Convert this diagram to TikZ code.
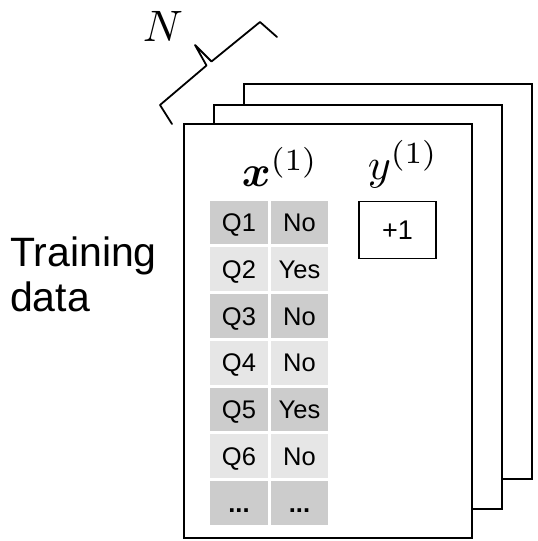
\documentclass[tikz,border=0pt]{standalone}
\usepackage{graphicx}
\usepackage{amsmath}
\usepackage{bm}
\usepackage{fontspec}
\setmainfont{Liberation Sans}
\definecolor{celldark}{HTML}{CCCCCC}
\definecolor{celllight}{HTML}{E6E6E6}
\newcommand{\celldots}{\textbf{...}}
% math set at 10pt and enlarged, so the fixed-size CM math fonts scale cleanly
\newcommand{\bigmath}[1]{\scalebox{4.4}{$#1$}}
\tikzset{
  sheet/.style={draw=black, fill=white, line width=1.8pt},
  cell/.style={minimum width=57.5pt, minimum height=43.7pt, inner sep=0pt,
    text height=18.4pt, text depth=0pt, font=\fontsize{25.5}{28}\selectfont},
  darkcell/.style={cell, fill=celldark},
  lightcell/.style={cell, fill=celllight},
  bigtext/.style={font=\fontsize{41}{45}\selectfont, inner sep=0pt, anchor=base west},
  mathlabel/.style={font=\fontsize{10}{12}\selectfont, inner sep=0pt, anchor=base},
  valbox/.style={draw=black, line width=1.4pt, minimum width=77pt, minimum height=57.5pt,
    inner sep=0pt, text height=19.5pt, text depth=0pt, font=\fontsize{27}{30}\selectfont},
  bracepath/.style={line width=1.8pt, line join=round, line cap=round}
}
\begin{document}
\begin{tikzpicture}[x=1pt, y=-1pt]
  \useasboundingbox (0,0) rectangle (538,541);

  % stacked sheets, back to front
  \draw[sheet] (244,84) rectangle (532,479);
  \draw[sheet] (214,105) rectangle (502,509);
  \draw[sheet] (184,124) rectangle (472,538);

  % brace over the stack
  \coordinate (b1) at (172,124);
  \coordinate (b2) at (160,105);
  \coordinate (b3) at (206.5,65.5);
  \coordinate (btip) at (195,45);
  \coordinate (b4) at (211.5,61.5);
  \coordinate (b5) at (260,22);
  \coordinate (b6) at (277,37);
  \draw[bracepath] (b1) -- (b2) -- (b3) -- (btip) -- (b4) -- (b5) -- (b6);
  \node[mathlabel] (nlabel) at (163,41) {\bigmath{N}};

  % side caption
  \node[bigtext] (cap1) at (10,266.7) {Training};
  \node[bigtext] (cap2) at (10,311.7) {data};

  % column headers
  \node[mathlabel] (xhead) at (280,186) {\bigmath{\bm{x}^{(1)}}};
  \node[mathlabel] (yhead) at (403,179) {\bigmath{y^{(1)}}};

  % feature table
  \foreach \q/\a/\sty [count=\i from 0] in
    {Q1/No/darkcell, Q2/Yes/lightcell, Q3/No/darkcell, Q4/No/lightcell,
     Q5/Yes/darkcell, Q6/No/lightcell, \celldots/\celldots/darkcell} {
    \node[\sty] (q\i) at (239, 222.5+46.72*\i) {\q};
    \node[\sty] (a\i) at (299.5, 222.5+46.72*\i) {\a};
  }

  % label value
  \node[valbox] (yval) at (397.5,230) {+1};
\end{tikzpicture}
\end{document}
